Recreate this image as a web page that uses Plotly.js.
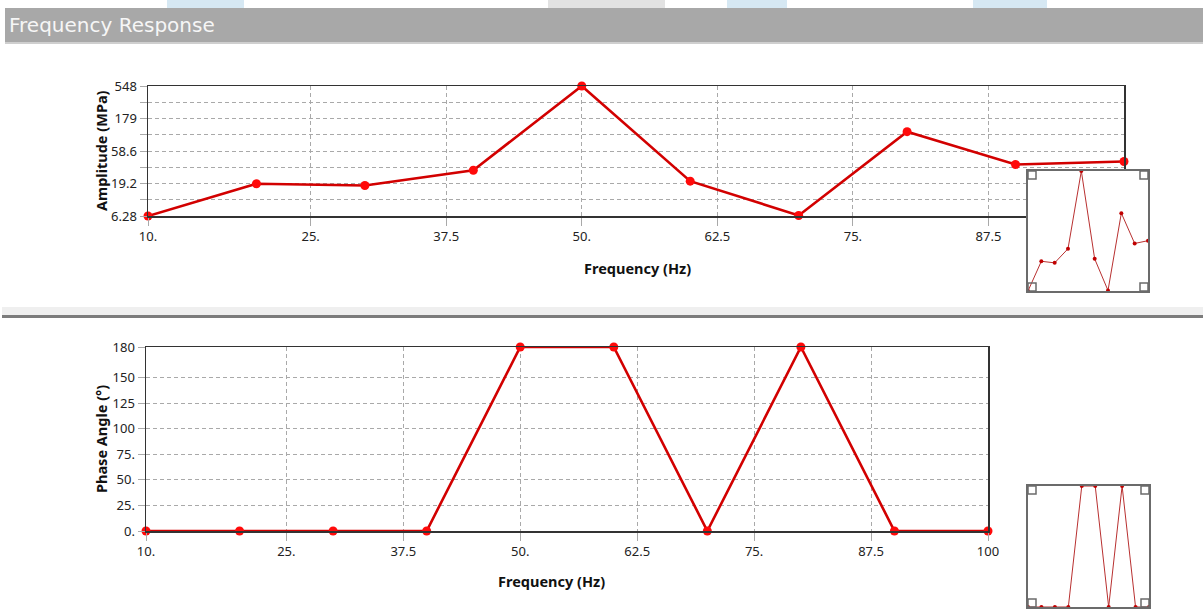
<!DOCTYPE html>
<html><head><meta charset="utf-8">
<script src="https://cdn.plot.ly/plotly-3.0.1.min.js"></script>
<style>html,body{margin:0;padding:0;background:#fff;} #chart{width:1203px;height:610px;}</style>
</head><body><div id="chart"></div>
<script>
// ---- data ----
const frequencies = [10, 20, 30, 40, 50, 60, 70, 80, 90, 100];
const amplitudeMPa = [6.28, 19.0, 17.9, 30.3, 548, 20.8, 6.4, 114, 36.9, 40.9];
const phaseAngleDeg = [0, 0, 0, 0, 180, 180, 0, 180, 0, 0];
const freqTickVals = [10, 25, 37.5, 50, 62.5, 75, 87.5, 100];
const freqTickText = ['10.', '25.', '37.5', '50.', '62.5', '75.', '87.5', '100'];
const ampTickVals = [6.28, 19.2, 58.6, 179, 548];
const ampTickText = ['6.28', '19.2', '58.6', '179', '548'];
const phaseTickVals = [0, 25, 50, 75, 100, 125, 150, 180];
const phaseTickText = ['0.', '25.', '50.', '75.', '100', '125', '150', '180'];

// ---- layout helpers ----
const W = 1203, H = 610;
const fx = p => p / W;
const fy = p => 1 - p / H;
const ampMid = [];
for (let i = 0; i < ampTickVals.length - 1; i++) ampMid.push(Math.sqrt(ampTickVals[i] * ampTickVals[i + 1]));

const FONT = 'Noto Sans';
const GRID = '#a9a9a9';
const DASH = '4px,3px';
const tickFont = {family: FONT, size: 13, color: '#222'};

function mainX(domain, anchor, vals, text) {
  return {domain, anchor, range: [10, 100], tickmode: 'array', tickvals: vals, ticktext: text,
    ticks: 'outside', ticklen: 8, tickcolor: GRID, tickwidth: 1,
    showgrid: true, gridcolor: GRID, griddash: DASH, gridwidth: 1,
    showline: true, mirror: true, linecolor: '#333', linewidth: 1.5,
    zeroline: false, tickfont: tickFont, fixedrange: true};
}
const layoutX1 = mainX([fx(148), fx(1124)], 'y', freqTickVals.slice(0, 7), freqTickText.slice(0, 7));
const layoutX2 = mainX([fx(146), fx(988)], 'y2', freqTickVals, freqTickText);

const layoutY1 = {domain: [fy(216), fy(86)], anchor: 'x', type: 'log',
  range: [Math.log10(ampTickVals[0]), Math.log10(ampTickVals[ampTickVals.length - 1])],
  tickmode: 'array', tickvals: ampTickVals, ticktext: ampTickText,
  ticks: 'outside', ticklen: 7, tickcolor: GRID,
  showgrid: true, gridcolor: GRID, griddash: DASH,
  minor: {tickmode: 'array', tickvals: ampMid, showgrid: true, gridcolor: GRID, griddash: DASH, ticks: 'outside', ticklen: 7, tickcolor: GRID},
  showline: true, mirror: true, linecolor: '#333', linewidth: 1.5,
  zeroline: false, tickfont: tickFont, fixedrange: true};

const layoutY2 = {domain: [fy(531), fy(347)], anchor: 'x2', range: [0, 180],
  tickmode: 'array', tickvals: phaseTickVals, ticktext: phaseTickText,
  ticks: 'outside', ticklen: 7, tickcolor: GRID,
  showgrid: true, gridcolor: GRID, griddash: DASH,
  showline: true, mirror: true, linecolor: '#333', linewidth: 1.5,
  zeroline: false, tickfont: tickFont, fixedrange: true};

function insetAxis(domain, anchor, extra) {
  return Object.assign({domain, anchor, showticklabels: false, ticks: '', showgrid: false,
    showline: true, mirror: true, linecolor: '#6b6b6b', linewidth: 2, zeroline: false, fixedrange: true}, extra);
}
const layoutX3 = insetAxis([fx(1028), fx(1148)], 'y3', {range: [10, 100]});
const layoutY3 = insetAxis([fy(291), fy(171)], 'x3', {type: 'log',
  range: [Math.log10(ampTickVals[0]), Math.log10(ampTickVals[ampTickVals.length - 1])]});
const layoutX4 = insetAxis([fx(1028), fx(1149)], 'y4', {range: [10, 100]});
const layoutY4 = insetAxis([fy(607), fy(486)], 'x4', {range: [0, 180]});

const mainLine = {color: '#d20000', width: 2.6};
const mainMarker = {color: '#ff0a0a', size: 9};
const insetLine = {color: '#b83030', width: 1};
const insetMarker = {color: '#c00000', size: 4};

const traces = [
  {x: frequencies, y: amplitudeMPa, xaxis: 'x', yaxis: 'y', mode: 'lines+markers', line: mainLine, marker: mainMarker, cliponaxis: false, hoverinfo: 'x+y'},
  {x: frequencies, y: phaseAngleDeg, xaxis: 'x2', yaxis: 'y2', mode: 'lines+markers', line: mainLine, marker: mainMarker, cliponaxis: false, hoverinfo: 'x+y'},
  {x: frequencies, y: amplitudeMPa, xaxis: 'x3', yaxis: 'y3', mode: 'lines+markers', line: insetLine, marker: insetMarker, cliponaxis: false, hoverinfo: 'skip'},
  {x: frequencies, y: phaseAngleDeg, xaxis: 'x4', yaxis: 'y4', mode: 'lines+markers', line: insetLine, marker: insetMarker, cliponaxis: false, hoverinfo: 'skip'}
];

function rectPx(x0, y0, x1, y1, fill, layer) {
  return {type: 'rect', xref: 'paper', yref: 'paper', x0: fx(x0), x1: fx(x1), y0: fy(y1), y1: fy(y0),
    fillcolor: fill, line: {width: 0}, layer: layer || 'below'};
}
function corner(x0, y0, s) {
  return {type: 'rect', xref: 'paper', yref: 'paper', x0: fx(x0), x1: fx(x0 + s), y0: fy(y0 + s), y1: fy(y0),
    fillcolor: 'rgba(0,0,0,0)', line: {color: '#6b6b6b', width: 1.5}, layer: 'above'};
}
const shapes = [
  rectPx(167, 0, 244, 8, '#d6e8f3'),
  rectPx(548, 0, 665, 8, '#e2e2e2'),
  rectPx(727, 0, 787, 8, '#d6e8f3'),
  rectPx(973, 0, 1047, 8, '#d6e8f3'),
  rectPx(5, 8, 1203, 42, '#a8a8a8'),
  rectPx(5, 42, 1203, 44, '#cfcfcf'),
  rectPx(2, 307, 1203, 315, '#efefef'),
  rectPx(2, 315, 1203, 318, '#7c7c7c'),
  corner(1028, 171, 8), corner(1140, 171, 8), corner(1028, 283, 8), corner(1140, 283, 8),
  corner(1028, 486, 8), corner(1141, 486, 8), corner(1028, 599, 8), corner(1141, 599, 8)
];

const titleFont = {family: FONT, size: 14.5, color: '#111'};
const annotations = [
  {text: 'Frequency Response', xref: 'paper', yref: 'paper', x: fx(7), y: fy(25), xanchor: 'left', yanchor: 'middle',
   showarrow: false, font: {family: 'DejaVu Sans', size: 20, color: '#f6f6f6'}},
  {text: '<b>Frequency (Hz)</b>', xref: 'paper', yref: 'paper', x: fx(637), y: fy(268), xanchor: 'center', yanchor: 'middle', showarrow: false, font: titleFont},
  {text: '<b>Frequency (Hz)</b>', xref: 'paper', yref: 'paper', x: fx(551), y: fy(581), xanchor: 'center', yanchor: 'middle', showarrow: false, font: titleFont},
  {text: '<b>Amplitude (MPa)</b>', xref: 'paper', yref: 'paper', x: fx(101), y: fy(151), xanchor: 'center', yanchor: 'middle', textangle: -90, showarrow: false, font: titleFont},
  {text: '<b>Phase Angle (°)</b>', xref: 'paper', yref: 'paper', x: fx(101), y: fy(439), xanchor: 'center', yanchor: 'middle', textangle: -90, showarrow: false, font: titleFont}
];

const layout = {
  width: W, height: H, margin: {l: 0, r: 0, t: 0, b: 0},
  paper_bgcolor: '#ffffff', plot_bgcolor: '#ffffff', showlegend: false,
  xaxis: layoutX1, yaxis: layoutY1, xaxis2: layoutX2, yaxis2: layoutY2,
  xaxis3: layoutX3, yaxis3: layoutY3, xaxis4: layoutX4, yaxis4: layoutY4,
  shapes, annotations
};
Plotly.newPlot('chart', traces, layout, {displayModeBar: false, staticPlot: true});
</script>
</body></html>
